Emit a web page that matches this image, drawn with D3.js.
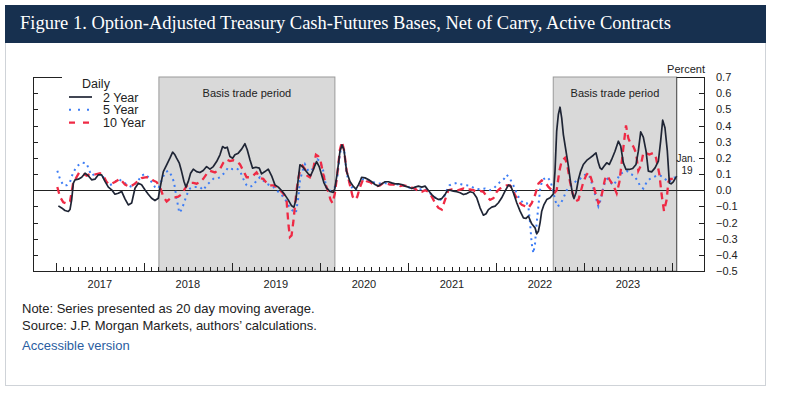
<!DOCTYPE html>
<html><head><meta charset="utf-8">
<script src="https://cdn.jsdelivr.net/npm/d3@7"></script>
<style>
html,body{margin:0;padding:0;background:#fff;}
svg{display:block;}
</style></head>
<body>
<svg id="chart" width="785" height="399"></svg>
<script>
// ---- DATA (dates as decimal years, values in percent) ----
const titleText = "Figure 1. Option-Adjusted Treasury Cash-Futures Bases, Net of Carry, Active Contracts";
const yTicks = [-0.5,-0.4,-0.3,-0.2,-0.1,0,0.1,0.2,0.3,0.4,0.5,0.6,0.7];
const yearLabels = [2017,2018,2019,2020,2021,2022,2023];
const seriesNames = ["2 Year","5 Year","10 Year"];
const basisPeriods = [[2018.17, 2020.17],[2022.65, 2024.053]];
const lastDate = 2024.053;

const twoYear = [[2017.027,-0.097],[2017.064,-0.11],[2017.102,-0.126],[2017.140,-0.132],[2017.159,-0.12],[2017.178,-0.06],[2017.197,0.043],[2017.216,0.064],[2017.254,0.068],[2017.292,0.08],[2017.330,0.105],[2017.367,0.089],[2017.405,0.064],[2017.443,0.068],[2017.481,0.095],[2017.519,0.095],[2017.557,0.054],[2017.595,0.019],[2017.633,0.002],[2017.670,-0.025],[2017.708,-0.019],[2017.746,-0.008],[2017.784,-0.054],[2017.822,-0.091],[2017.860,-0.08],[2017.898,0.012],[2017.936,0.043],[2017.973,0.033],[2018.011,0.002],[2018.049,-0.025],[2018.087,-0.05],[2018.125,-0.064],[2018.163,-0.05],[2018.182,0.012],[2018.220,0.115],[2018.258,0.157],[2018.295,0.198],[2018.326,0.235],[2018.352,0.219],[2018.371,0.198],[2018.402,0.167],[2018.428,0.115],[2018.455,0.054],[2018.477,0.019],[2018.504,0.054],[2018.530,0.105],[2018.561,0.13],[2018.598,0.115],[2018.636,0.109],[2018.674,0.122],[2018.712,0.146],[2018.750,0.13],[2018.788,0.146],[2018.826,0.177],[2018.864,0.219],[2018.894,0.27],[2018.920,0.26],[2018.947,0.266],[2018.977,0.208],[2019.008,0.198],[2019.034,0.219],[2019.072,0.229],[2019.110,0.254],[2019.148,0.287],[2019.174,0.25],[2019.205,0.188],[2019.235,0.136],[2019.273,0.142],[2019.311,0.136],[2019.337,0.101],[2019.375,0.115],[2019.413,0.13],[2019.451,0.089],[2019.489,0.033],[2019.527,0.019],[2019.564,-0.002],[2019.602,-0.029],[2019.640,-0.06],[2019.678,-0.097],[2019.705,-0.105],[2019.727,-0.06],[2019.746,0.033],[2019.773,0.157],[2019.803,0.146],[2019.830,0.126],[2019.867,0.101],[2019.894,0.089],[2019.924,0.126],[2019.962,0.177],[2019.992,0.146],[2020.019,0.095],[2020.045,0.047],[2020.076,0.012],[2020.114,-0.008],[2020.152,-0.014],[2020.170,0.012],[2020.197,0.105],[2020.227,0.239],[2020.250,0.28],[2020.273,0.25],[2020.303,0.115],[2020.341,0.054],[2020.379,0.023],[2020.409,0.006],[2020.436,0.033],[2020.455,0.054],[2020.473,0.08],[2020.511,0.076],[2020.549,0.066],[2020.587,0.052],[2020.625,0.035],[2020.663,0.025],[2020.701,0.039],[2020.739,0.052],[2020.777,0.052],[2020.814,0.045],[2020.852,0.039],[2020.890,0.039],[2020.928,0.035],[2020.966,0.025],[2021.004,0.019],[2021.042,0.01],[2021.080,0.019],[2021.117,0.025],[2021.155,0.019],[2021.193,0.025],[2021.231,-0.002],[2021.269,-0.027],[2021.307,-0.047],[2021.345,-0.058],[2021.383,-0.052],[2021.420,-0.027],[2021.447,0],[2021.477,0],[2021.515,-0.006],[2021.553,-0.01],[2021.591,-0.016],[2021.629,-0.027],[2021.667,-0.021],[2021.705,-0.01],[2021.742,-0.016],[2021.780,-0.047],[2021.818,-0.109],[2021.856,-0.155],[2021.886,-0.146],[2021.913,-0.12],[2021.951,-0.105],[2021.989,-0.099],[2022.027,-0.078],[2022.064,-0.047],[2022.102,-0.006],[2022.140,0.031],[2022.167,0.025],[2022.197,-0.016],[2022.235,-0.078],[2022.273,-0.13],[2022.311,-0.171],[2022.341,-0.175],[2022.367,-0.16],[2022.405,-0.208],[2022.443,-0.233],[2022.462,-0.27],[2022.481,-0.254],[2022.500,-0.202],[2022.519,-0.13],[2022.545,-0.089],[2022.576,-0.058],[2022.614,-0.047],[2022.652,-0.023],[2022.670,0.118],[2022.689,0.365],[2022.708,0.468],[2022.727,0.513],[2022.746,0.447],[2022.765,0.344],[2022.795,0.241],[2022.822,0.148],[2022.848,0.045],[2022.871,-0.027],[2022.886,-0.052],[2022.909,-0.016],[2022.936,0.066],[2022.962,0.118],[2022.992,0.159],[2023.030,0.184],[2023.068,0.2],[2023.106,0.216],[2023.136,0.231],[2023.163,0.169],[2023.182,0.138],[2023.201,0.128],[2023.227,0.148],[2023.258,0.169],[2023.288,0.159],[2023.314,0.19],[2023.352,0.241],[2023.390,0.303],[2023.417,0.272],[2023.447,0.169],[2023.477,0.128],[2023.515,0.128],[2023.553,0.134],[2023.591,0.159],[2023.617,0.241],[2023.644,0.361],[2023.674,0.328],[2023.705,0.241],[2023.731,0.118],[2023.769,0.113],[2023.807,0.138],[2023.845,0.179],[2023.871,0.303],[2023.894,0.433],[2023.920,0.386],[2023.947,0.241],[2023.970,0.045],[2023.989,0.039],[2024.015,0.052],[2024.053,0.087]];

const fiveYear = [[2017.015,0.12],[2017.045,0.07],[2017.083,0.03],[2017.121,0.03],[2017.159,0.05],[2017.189,0.1],[2017.227,0.14],[2017.265,0.16],[2017.303,0.17],[2017.348,0.165],[2017.379,0.12],[2017.405,0.09],[2017.443,0.1],[2017.481,0.1],[2017.519,0.1],[2017.557,0.06],[2017.606,0.03],[2017.652,0.04],[2017.708,0.07],[2017.765,0.05],[2017.822,0.03],[2017.860,0.02],[2017.898,0.04],[2017.936,0.06],[2017.973,0.09],[2018.011,0.1],[2018.049,0.08],[2018.087,0.05],[2018.125,0.02],[2018.163,0.01],[2018.201,0.06],[2018.239,0.11],[2018.277,0.12],[2018.314,0.09],[2018.341,0.05],[2018.371,-0.05],[2018.402,-0.14],[2018.428,-0.12],[2018.455,-0.08],[2018.485,-0.03],[2018.523,0.01],[2018.561,0.02],[2018.598,0.02],[2018.636,0.02],[2018.674,0.0],[2018.712,0.03],[2018.750,0.05],[2018.788,0.07],[2018.826,0.07],[2018.864,0.08],[2018.902,0.1],[2018.958,0.14],[2019.008,0.13],[2019.053,0.135],[2019.091,0.12],[2019.129,0.07],[2019.167,0.03],[2019.205,0.02],[2019.242,0.03],[2019.280,0.06],[2019.318,0.08],[2019.356,0.06],[2019.394,0.04],[2019.432,0.03],[2019.470,0.02],[2019.508,0.0],[2019.545,-0.02],[2019.583,-0.04],[2019.621,-0.07],[2019.659,-0.11],[2019.697,-0.13],[2019.727,-0.14],[2019.754,-0.05],[2019.773,0.06],[2019.803,0.12],[2019.830,0.16],[2019.867,0.12],[2019.905,0.12],[2019.943,0.16],[2019.973,0.19],[2020.000,0.18],[2020.038,0.12],[2020.068,0.03],[2020.098,-0.01],[2020.133,0.0],[2020.170,0.02],[2020.197,0.08],[2020.227,0.22],[2020.250,0.29],[2020.277,0.24],[2020.303,0.1],[2020.341,0.04],[2020.379,0.0],[2020.417,0.01],[2020.455,0.03],[2020.492,0.07],[2020.549,0.06],[2020.606,0.05],[2020.663,0.04],[2020.720,0.045],[2020.777,0.04],[2020.833,0.04],[2020.890,0.035],[2020.947,0.03],[2020.985,0.02],[2021.023,0.015],[2021.061,0.01],[2021.098,0.0],[2021.136,0.005],[2021.174,0.01],[2021.212,0.0],[2021.250,-0.02],[2021.288,-0.04],[2021.326,-0.05],[2021.364,-0.06],[2021.402,-0.05],[2021.439,0.0],[2021.470,0.03],[2021.515,0.04],[2021.553,0.045],[2021.610,0.035],[2021.667,0.03],[2021.712,0.025],[2021.761,0.01],[2021.818,0.005],[2021.875,0.01],[2021.932,0.0],[2021.970,0.01],[2022.008,0.03],[2022.045,0.05],[2022.091,0.07],[2022.121,0.095],[2022.159,0.07],[2022.197,0.03],[2022.235,-0.02],[2022.273,-0.06],[2022.311,-0.08],[2022.348,-0.08],[2022.367,-0.1],[2022.386,-0.2],[2022.405,-0.33],[2022.424,-0.39],[2022.443,-0.33],[2022.462,-0.2],[2022.481,-0.1],[2022.500,0.0],[2022.519,0.05],[2022.545,0.07],[2022.583,0.08],[2022.614,0.06],[2022.644,0.01],[2022.670,-0.06],[2022.697,-0.1],[2022.727,-0.09],[2022.765,-0.05],[2022.803,0.0],[2022.841,0.02],[2022.879,0.04],[2022.917,0.06],[2022.955,0.07],[2022.992,0.09],[2023.030,0.1],[2023.068,0.08],[2023.106,0.01],[2023.136,-0.05],[2023.163,-0.1],[2023.189,-0.06],[2023.212,0.0],[2023.239,0.05],[2023.265,0.07],[2023.295,0.05],[2023.333,0.03],[2023.371,0.06],[2023.409,0.1],[2023.447,0.11],[2023.485,0.12],[2023.530,0.1],[2023.568,0.09],[2023.606,0.06],[2023.644,0.02],[2023.674,0.01],[2023.712,0.05],[2023.750,0.07],[2023.788,0.08],[2023.826,0.09],[2023.864,0.09],[2023.902,0.08],[2023.939,0.06],[2023.970,0.05],[2023.996,0.07],[2024.034,0.08]];

const tenYear = [[2017.015,0.02],[2017.045,-0.04],[2017.083,-0.075],[2017.129,-0.085],[2017.159,-0.07],[2017.178,-0.01],[2017.197,0.05],[2017.227,0.075],[2017.265,0.11],[2017.303,0.105],[2017.348,0.09],[2017.386,0.1],[2017.424,0.095],[2017.462,0.1],[2017.500,0.105],[2017.538,0.09],[2017.576,0.05],[2017.614,0.035],[2017.670,0.05],[2017.727,0.07],[2017.784,0.035],[2017.841,0.02],[2017.898,0.04],[2017.936,0.06],[2017.973,0.075],[2018.030,0.08],[2018.068,0.075],[2018.106,0.06],[2018.144,0.05],[2018.182,0.02],[2018.220,-0.04],[2018.258,-0.07],[2018.303,-0.05],[2018.352,-0.045],[2018.390,-0.04],[2018.428,-0.025],[2018.466,0.01],[2018.492,0.03],[2018.523,0.045],[2018.561,0.045],[2018.598,0.04],[2018.636,0.05],[2018.674,0.07],[2018.712,0.1],[2018.750,0.12],[2018.807,0.11],[2018.864,0.13],[2018.902,0.17],[2018.939,0.19],[2018.977,0.18],[2019.015,0.185],[2019.053,0.18],[2019.091,0.16],[2019.129,0.12],[2019.167,0.08],[2019.205,0.08],[2019.242,0.09],[2019.280,0.11],[2019.318,0.075],[2019.356,0.07],[2019.394,0.045],[2019.432,0.03],[2019.470,0.03],[2019.508,0.02],[2019.545,0.0],[2019.583,-0.02],[2019.621,-0.06],[2019.629,-0.12],[2019.644,-0.22],[2019.659,-0.29],[2019.678,-0.28],[2019.697,-0.2],[2019.716,-0.1],[2019.735,0.0],[2019.754,0.07],[2019.773,0.12],[2019.803,0.15],[2019.830,0.13],[2019.856,0.09],[2019.886,0.08],[2019.924,0.13],[2019.955,0.22],[2019.981,0.21],[2020.008,0.18],[2020.038,0.1],[2020.068,0.03],[2020.095,-0.01],[2020.121,-0.06],[2020.144,-0.08],[2020.170,-0.02],[2020.197,0.1],[2020.227,0.25],[2020.250,0.30],[2020.273,0.25],[2020.303,0.12],[2020.341,0.03],[2020.371,-0.04],[2020.398,-0.06],[2020.424,-0.04],[2020.455,0.02],[2020.492,0.07],[2020.530,0.055],[2020.568,0.05],[2020.606,0.035],[2020.644,0.025],[2020.682,0.03],[2020.720,0.045],[2020.758,0.04],[2020.795,0.035],[2020.833,0.035],[2020.871,0.03],[2020.909,0.025],[2020.947,0.03],[2021.004,0.025],[2021.042,0.015],[2021.080,0.01],[2021.117,-0.01],[2021.155,-0.01],[2021.193,0.0],[2021.231,-0.01],[2021.269,-0.04],[2021.307,-0.08],[2021.345,-0.11],[2021.383,-0.12],[2021.420,-0.06],[2021.458,0.0],[2021.496,0.005],[2021.534,0.0],[2021.572,0.0],[2021.629,0.01],[2021.667,0.0],[2021.705,0.005],[2021.742,0.0],[2021.780,-0.01],[2021.818,-0.005],[2021.856,-0.01],[2021.894,-0.04],[2021.932,-0.06],[2021.970,-0.05],[2022.008,-0.01],[2022.045,0.01],[2022.083,0.02],[2022.121,0.03],[2022.159,0.03],[2022.189,0.0],[2022.216,-0.03],[2022.254,-0.07],[2022.292,-0.09],[2022.330,-0.1],[2022.367,-0.11],[2022.405,-0.08],[2022.443,-0.03],[2022.481,0.04],[2022.519,0.06],[2022.557,0.05],[2022.595,0.02],[2022.633,0.0],[2022.659,-0.02],[2022.689,0.0],[2022.720,0.12],[2022.746,0.18],[2022.784,0.2],[2022.811,0.15],[2022.841,0.05],[2022.871,-0.02],[2022.902,-0.07],[2022.936,-0.06],[2022.962,-0.01],[2022.992,0.05],[2023.023,0.09],[2023.049,0.11],[2023.076,0.08],[2023.106,0.03],[2023.136,-0.03],[2023.163,-0.08],[2023.189,-0.06],[2023.212,0.0],[2023.239,0.07],[2023.265,0.09],[2023.295,0.06],[2023.333,0.03],[2023.371,-0.02],[2023.402,0.05],[2023.428,0.17],[2023.455,0.3],[2023.477,0.4],[2023.504,0.32],[2023.530,0.29],[2023.561,0.27],[2023.591,0.23],[2023.617,0.12],[2023.644,0.15],[2023.674,0.23],[2023.705,0.23],[2023.742,0.22],[2023.788,0.23],[2023.818,0.2],[2023.856,0.1],[2023.883,-0.03],[2023.909,-0.13],[2023.939,-0.06],[2023.958,0.05],[2023.977,0.07],[2024.015,0.07]];

const noteLines = ["Note: Series presented as 20 day moving average.","Source: J.P. Morgan Markets, authors\u2019 calculations."];
const linkText = "Accessible version";

// ---- helpers ----
const toDate = y => { const yr = Math.floor(y); const s = Date.UTC(yr,0,1), e = Date.UTC(yr+1,0,1); return new Date(s + (y-yr)*(e-s)); };

const svg = d3.select("#chart");

// outer box
svg.append("rect").attr("x",5.5).attr("y",5.5).attr("width",760).attr("height",380)
  .attr("fill","#fff").attr("stroke","#cfd3d8");
// title bar
svg.append("rect").attr("x",5).attr("y",5).attr("width",761).attr("height",38).attr("fill","#17304f");
svg.append("text").attr("x",20).attr("y",29).text(titleText)
  .attr("fill","#fff").attr("font-family","Liberation Serif, serif").attr("font-size",18.5);

const L = 33, R = 704, T = 77, B = 271;
const x = d3.scaleUtc().domain([new Date(Date.UTC(2017,0,1)), new Date(Date.UTC(2024,0,1))]).range([56,672]);
const y = d3.scaleLinear().domain([-0.5,0.7]).range([B,T]);

const font = "Liberation Sans, Arial, sans-serif";

// shaded periods
const shades = svg.append("g");
basisPeriods.forEach(p => {
  shades.append("rect").attr("x",x(toDate(p[0]))).attr("y",T)
    .attr("width",x(toDate(p[1]))-x(toDate(p[0]))).attr("height",B-T)
    .attr("fill","#d9d9d9").attr("stroke","#9a9a9a").attr("stroke-width",1);
  svg.append("text").attr("x",(x(toDate(p[0]))+x(toDate(p[1])))/2).attr("y",97)
    .attr("text-anchor","middle").attr("font-family",font).attr("font-size",11).attr("fill","#222")
    .text("Basis trade period");
});

// end-of-data vertical line
svg.append("line").attr("x1",x(toDate(lastDate))).attr("x2",x(toDate(lastDate)))
  .attr("y1",T).attr("y2",B).attr("stroke","#555").attr("stroke-width",1);

// frame
const frame = svg.append("g").attr("stroke","#222").attr("stroke-width",1).attr("fill","none");
frame.append("line").attr("x1",L+0.5).attr("x2",L+0.5).attr("y1",T).attr("y2",B+0.5);
frame.append("line").attr("x1",R+0.5).attr("x2",R+0.5).attr("y1",T).attr("y2",B+0.5);
frame.append("line").attr("x1",L).attr("x2",R+1).attr("y1",B+0.5).attr("y2",B+0.5);
frame.append("line").attr("x1",L).attr("x2",62).attr("y1",T+0.5).attr("y2",T+0.5);
frame.append("line").attr("x1",x(toDate(lastDate))).attr("x2",R+1).attr("y1",T+0.5).attr("y2",T+0.5);

// y ticks (inside on both sides)
const inner = yTicks.filter(v => v > -0.5 && v < 0.7 && v !== 0);
inner.forEach(v => {
  const yy = Math.round(y(v)) + 0.5;
  frame.append("line").attr("x1",L).attr("x2",L+5).attr("y1",yy).attr("y2",yy);
  frame.append("line").attr("x1",R-5).attr("x2",R).attr("y1",yy).attr("y2",yy);
});

// right axis labels
const fmt = d3.format(".1f");
svg.append("g").selectAll("text").data(yTicks).join("text")
  .attr("x",716).attr("y",d => y(d)+4).attr("font-family",font).attr("font-size",11).attr("fill","#222")
  .text(d => fmt(d));
svg.append("text").attr("x",R+1).attr("y",73).attr("text-anchor","end")
  .attr("font-family",font).attr("font-size",11).attr("fill","#222").text("Percent");

// x ticks: months inside, years longer
const months = d3.utcMonth.range(new Date(Date.UTC(2017,0,1)), new Date(Date.UTC(2024,0,2)));
months.forEach(m => {
  const xx = Math.round(x(m)) + 0.5;
  const isYear = m.getUTCMonth() === 0;
  frame.append("line").attr("x1",xx).attr("x2",xx).attr("y1",B).attr("y2",B - (isYear ? 8 : 4));
});
svg.append("g").selectAll("text").data(yearLabels).join("text")
  .attr("x",d => x(new Date(Date.UTC(d,6,2)))).attr("y",288).attr("text-anchor","middle")
  .attr("font-family",font).attr("font-size",11).attr("fill","#222").text(d => d);

// zero line
svg.append("line").attr("x1",L).attr("x2",R).attr("y1",Math.round(y(0))+0.5).attr("y2",Math.round(y(0))+0.5)
  .attr("stroke","#222").attr("stroke-width",1.2);

// series
const line = d3.line().x(d => x(toDate(d[0]))).y(d => y(d[1]));
svg.append("path").datum(fiveYear).attr("d",line).attr("fill","none")
  .attr("stroke","#3d7df5").attr("stroke-width",2).attr("stroke-dasharray","2,4");
svg.append("path").datum(tenYear).attr("d",line).attr("fill","none")
  .attr("stroke","#ef2a45").attr("stroke-width",2.3).attr("stroke-dasharray","7,5");
svg.append("path").datum(twoYear).attr("d",line).attr("fill","none")
  .attr("stroke","#1f2535").attr("stroke-width",1.7).attr("stroke-linejoin","round");

// Jan. 19 annotation
svg.append("text").attr("x",686).attr("y",162).attr("text-anchor","middle")
  .attr("font-family",font).attr("font-size",10).attr("fill","#222").text("Jan.");
svg.append("text").attr("x",687).attr("y",174).attr("text-anchor","middle")
  .attr("font-family",font).attr("font-size",10).attr("fill","#222").text("19");

// legend
const lg = svg.append("g");
lg.append("text").attr("x",96).attr("y",88).attr("text-anchor","middle")
  .attr("font-family",font).attr("font-size",12.5).attr("fill","#222").text("Daily");
const legendStyles = [
  {stroke:"#1f2535", dash:null, w:1.7},
  {stroke:"#3d7df5", dash:"2,7", w:2},
  {stroke:"#ef2a45", dash:"6,8", w:2.3}
];
seriesNames.forEach((n,i) => {
  const yy = 97 + i*12.8;
  const s = legendStyles[i];
  const l = lg.append("line").attr("x1",69).attr("x2",92).attr("y1",yy).attr("y2",yy)
    .attr("stroke",s.stroke).attr("stroke-width",s.w);
  if (s.dash) l.attr("stroke-dasharray",s.dash);
  lg.append("text").attr("x",103).attr("y",yy+4.5).attr("font-family",font).attr("font-size",12.5)
    .attr("fill","#222").text(n);
});

// notes
noteLines.forEach((t,i) => {
  svg.append("text").attr("x",22).attr("y",313 + i*16.5).attr("font-family",font).attr("font-size",13)
    .attr("fill","#222").text(t);
});
svg.append("text").attr("x",22).attr("y",350).attr("font-family",font).attr("font-size",13)
  .attr("fill","#2a5d9f").text(linkText);
</script>
</body></html>
